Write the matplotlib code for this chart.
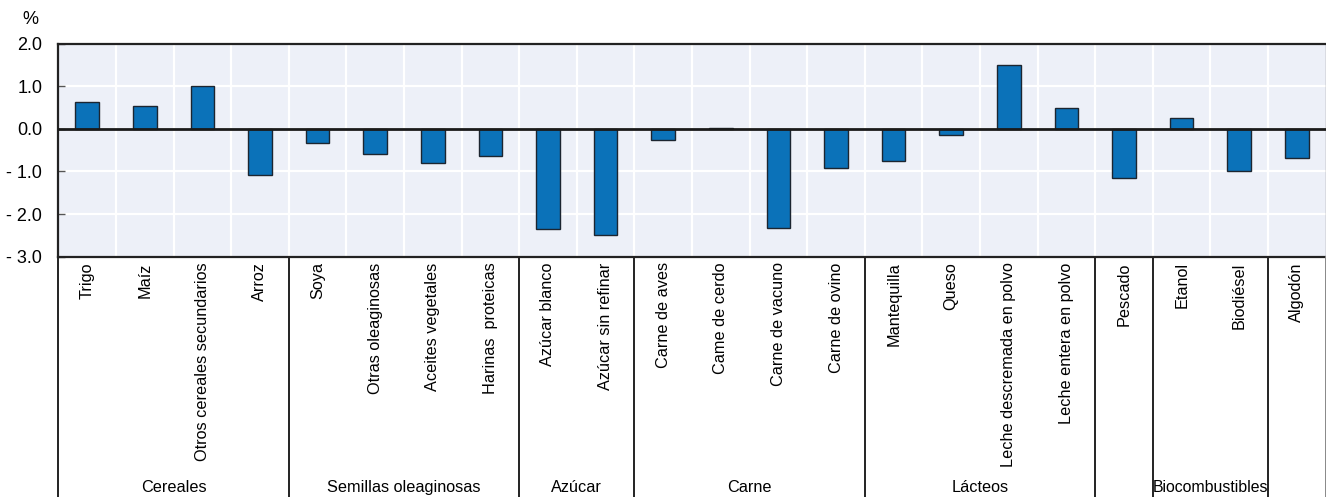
import matplotlib
matplotlib.use("Agg")
import matplotlib.pyplot as plt
from matplotlib import font_manager
from matplotlib.ticker import FuncFormatter
import numpy as np

# Commodities, their groups and projected changes (%)
groups = ["Cereales", "Semillas oleaginosas", "Azúcar", "Carne", "Lácteos",
          "Pescado", "Biocombustibles", "Algodón"]
group_sizes = [4, 4, 2, 4, 4, 1, 2, 1]
group_labels = ["Cereales", "Semillas oleaginosas", "Azúcar", "Carne", "Lácteos",
                "", "Biocombustibles", ""]

products = ["Trigo", "Maíz", "Otros cereales secundarios", "Arroz",
            "Soya", "Otras oleaginosas", "Aceites vegetales", "Harinas  proteicas",
            "Azúcar blanco", "Azúcar sin refinar",
            "Carne de aves", "Came de cerdo", "Carne de vacuno", "Carne de ovino",
            "Mantequilla", "Queso", "Leche descremada en polvo", "Leche entera en polvo",
            "Pescado",
            "Etanol", "Biodiésel",
            "Algodón"]
values = [0.63, 0.53, 1.01, -1.09,
          -0.32, -0.59, -0.80, -0.63,
          -2.34, -2.48,
          -0.27, 0.03, -2.33, -0.91,
          -0.75, -0.14, 1.50, 0.48,
          -1.15,
          0.25, -0.99,
          -0.68]

yticks = [-3.0, -2.0, -1.0, 0.0, 1.0, 2.0]

names = {f.name for f in font_manager.fontManager.ttflist}
narrow = "Liberation Sans Narrow" if "Liberation Sans Narrow" in names else "Liberation Sans"
plt.rcParams["font.family"] = [narrow, "DejaVu Sans"]

W, H = 1326, 497
fig = plt.figure(figsize=(W / 100, H / 100), dpi=100)
left, right, top, bottom = 58.3, 1325.7, 43.7, 256.7
ax = fig.add_axes([left / W, 1 - bottom / H, (right - left) / W, (bottom - top) / H])

bg = "#edf0f8"
bar_color = "#0b72b9"
ax.set_facecolor(bg)

x = np.arange(len(products))
ax.bar(x, values, width=0.41, color=bar_color, edgecolor="#1c2530", linewidth=1.0, zorder=3)
ax.axhline(0, color="#1a1a1a", linewidth=2.0, zorder=4)

ax.set_xlim(-0.5, len(products) - 0.5)
ax.set_ylim(-3.0, 2.0)
ax.set_yticks(yticks)
ax.yaxis.set_major_formatter(FuncFormatter(
    lambda v, _: f"- {abs(v):.1f}" if v < 0 else f"{v:.1f}"))

# white grid: horizontal at ticks, vertical between categories
for yv in yticks[1:-1]:
    ax.axhline(yv, color="white", linewidth=1.6, zorder=1)
for b in np.arange(0.5, len(products) - 0.5, 1.0):
    ax.axvline(b, color="white", linewidth=1.6, zorder=1)

ax.set_xticks(x)
ax.set_xticklabels(products, rotation=90, ha="center", va="top", fontsize=11.7)
ax.tick_params(axis="x", length=0, pad=4)
ax.tick_params(axis="y", direction="in", length=5, width=1, color="#555555",
               labelsize=13, pad=11.5)
for lbl in ax.get_yticklabels():
    lbl.set_horizontalalignment("right")

for side in ["top", "left", "bottom"]:
    ax.spines[side].set_color("#222222")
    ax.spines[side].set_linewidth(1.6)
ax.spines["right"].set_color("#888888")
ax.spines["right"].set_linewidth(1.0)

# group separators and group names below the axis
y_fig_bottom = -(H - bottom) / (bottom - top)
trans = ax.get_xaxis_transform()
edges = np.concatenate([[0], np.cumsum(group_sizes)]) - 0.5
for i, e in enumerate(edges):
    col = "#888888" if i == len(edges) - 1 else "#222222"
    ax.plot([e, e], [0, y_fig_bottom], color=col, linewidth=1.4,
            transform=trans, clip_on=False, zorder=5)
label_y = -(488 - bottom) / (bottom - top)
for i, name in enumerate(group_labels):
    if name:
        cx = (edges[i] + edges[i + 1]) / 2
        size = 11.4 if len(name) > 14 and group_sizes[i] < 3 else 11.7
        ax.text(cx, label_y, name, transform=trans, ha="center", va="center",
                fontsize=size, clip_on=False)

fig.text(30 / W, 1 - 20 / H, "%", ha="center", va="center", fontsize=13)

fig.savefig("out.png", dpi=100)
